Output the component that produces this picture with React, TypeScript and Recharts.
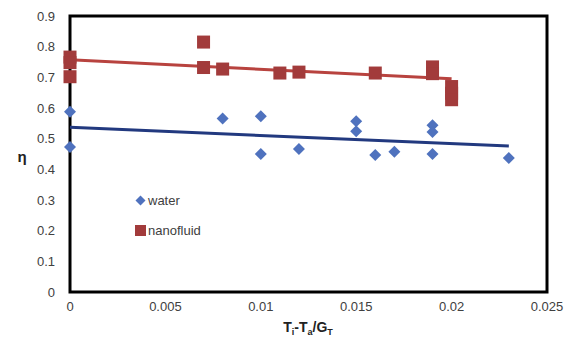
import { ScatterChart, Scatter, XAxis, YAxis, usePlotArea } from 'recharts';

const waterX = [0, 0, 0.008, 0.01, 0.01, 0.012, 0.015, 0.015, 0.016, 0.017, 0.019, 0.019, 0.019, 0.023];
const waterY = [0.588, 0.473, 0.566, 0.573, 0.45, 0.466, 0.557, 0.524, 0.447, 0.457, 0.544, 0.522, 0.45, 0.437];

const nanoX = [0, 0, 0, 0.007, 0.007, 0.008, 0.011, 0.012, 0.016, 0.019, 0.019, 0.02, 0.02, 0.02];
const nanoY = [0.766, 0.748, 0.702, 0.815, 0.732, 0.727, 0.714, 0.717, 0.714, 0.734, 0.712, 0.67, 0.648, 0.627];

const waterTrendX = [0, 0.023];
const waterTrendY = [0.537, 0.476];
const nanoTrendX = [0, 0.02];
const nanoTrendY = [0.757, 0.695];

const xTicks = [0, 0.005, 0.01, 0.015, 0.02, 0.025];
const yTicks = [0, 0.1, 0.2, 0.3, 0.4, 0.5, 0.6, 0.7, 0.8, 0.9];

const WATER = '#4f72be';
const WATER_LINE = '#22397f';
const NANO = '#a23b3b';
const NANO_LINE = '#b8433f';
const FONT = 'Liberation Sans, Arial, sans-serif';

const toPoints = (xs: number[], ys: number[]) => xs.map((x, i) => ({ x, y: ys[i] }));

const water = toPoints(waterX, waterY);
const nano = toPoints(nanoX, nanoY);
const waterTrend = toPoints(waterTrendX, waterTrendY);
const nanoTrend = toPoints(nanoTrendX, nanoTrendY);

const Diamond = (props: any) => {
  const { cx, cy } = props;
  const r = 6;
  return <polygon points={`${cx},${cy - r} ${cx + r},${cy} ${cx},${cy + r} ${cx - r},${cy}`} fill={WATER} />;
};

const Square = (props: any) => {
  const { cx, cy } = props;
  const s = 13;
  return <rect x={cx - s / 2} y={cy - s / 2} width={s} height={s} fill={NANO} />;
};

const NoDot = () => <g />;

// black box round the plot area
const Frame = () => {
  const area = usePlotArea();
  if (!area) return null;
  return <rect x={area.x} y={area.y} width={area.width} height={area.height} fill="none" stroke="#000" strokeWidth={3} />;
};

const tickStyle = { fill: '#404040', fontSize: 13, fontFamily: FONT };

export default function App() {
  return (
    <div style={{ position: 'absolute', left: 0, top: 0, width: 573, height: 340, background: '#fff' }}>
      <ScatterChart width={573} height={340} margin={{ top: 16, right: 26, bottom: 0, left: 0 }}>
        <Frame />
        <XAxis
          type="number"
          dataKey="x"
          domain={[0, 0.025]}
          ticks={xTicks}
          height={48}
          tickLine={false}
          tickSize={6}
          tickMargin={4}
          axisLine={false}
          tick={tickStyle}
        />
        <YAxis
          type="number"
          dataKey="y"
          domain={[0, 0.9]}
          ticks={yTicks}
          width={70}
          tickLine={false}
          tickSize={6}
          tickMargin={9}
          axisLine={false}
          tick={tickStyle}
        />
        <Scatter data={waterTrend} line={{ stroke: WATER_LINE, strokeWidth: 3 }} shape={NoDot} isAnimationActive={false} legendType="none" />
        <Scatter data={nanoTrend} line={{ stroke: NANO_LINE, strokeWidth: 3 }} shape={NoDot} isAnimationActive={false} legendType="none" />
        <Scatter name="water" data={water} shape={Diamond} isAnimationActive={false} />
        <Scatter name="nanofluid" data={nano} shape={Square} isAnimationActive={false} />
        <text x={22} y={162} textAnchor="middle" fontSize={15} fontWeight="bold" fill="#222" fontFamily={FONT}>
          η
        </text>
        <text x={308} y={332} textAnchor="middle" fontSize={14} fontWeight="bold" fill="#222" fontFamily={FONT}>
          T<tspan fontSize={9} dy={3}>i</tspan>
          <tspan dy={-3}>-T</tspan>
          <tspan fontSize={9} dy={3}>a</tspan>
          <tspan dy={-3}>/G</tspan>
          <tspan fontSize={9} dy={3}>T</tspan>
        </text>
      </ScatterChart>
      <div style={{ position: 'absolute', left: 135, top: 185, fontFamily: FONT, fontSize: 13, color: '#404040' }}>
        <div style={{ display: 'flex', alignItems: 'center', height: 30 }}>
          <svg width={11} height={11} style={{ marginRight: 2 }}>
            <polygon points="5.5,0.5 10.5,5.5 5.5,10.5 0.5,5.5" fill={WATER} />
          </svg>
          water
        </div>
        <div style={{ display: 'flex', alignItems: 'center', height: 30 }}>
          <svg width={11} height={11} style={{ marginRight: 2 }}>
            <rect x={0} y={0} width={11} height={11} fill={NANO} />
          </svg>
          nanofluid
        </div>
      </div>
    </div>
  );
}
